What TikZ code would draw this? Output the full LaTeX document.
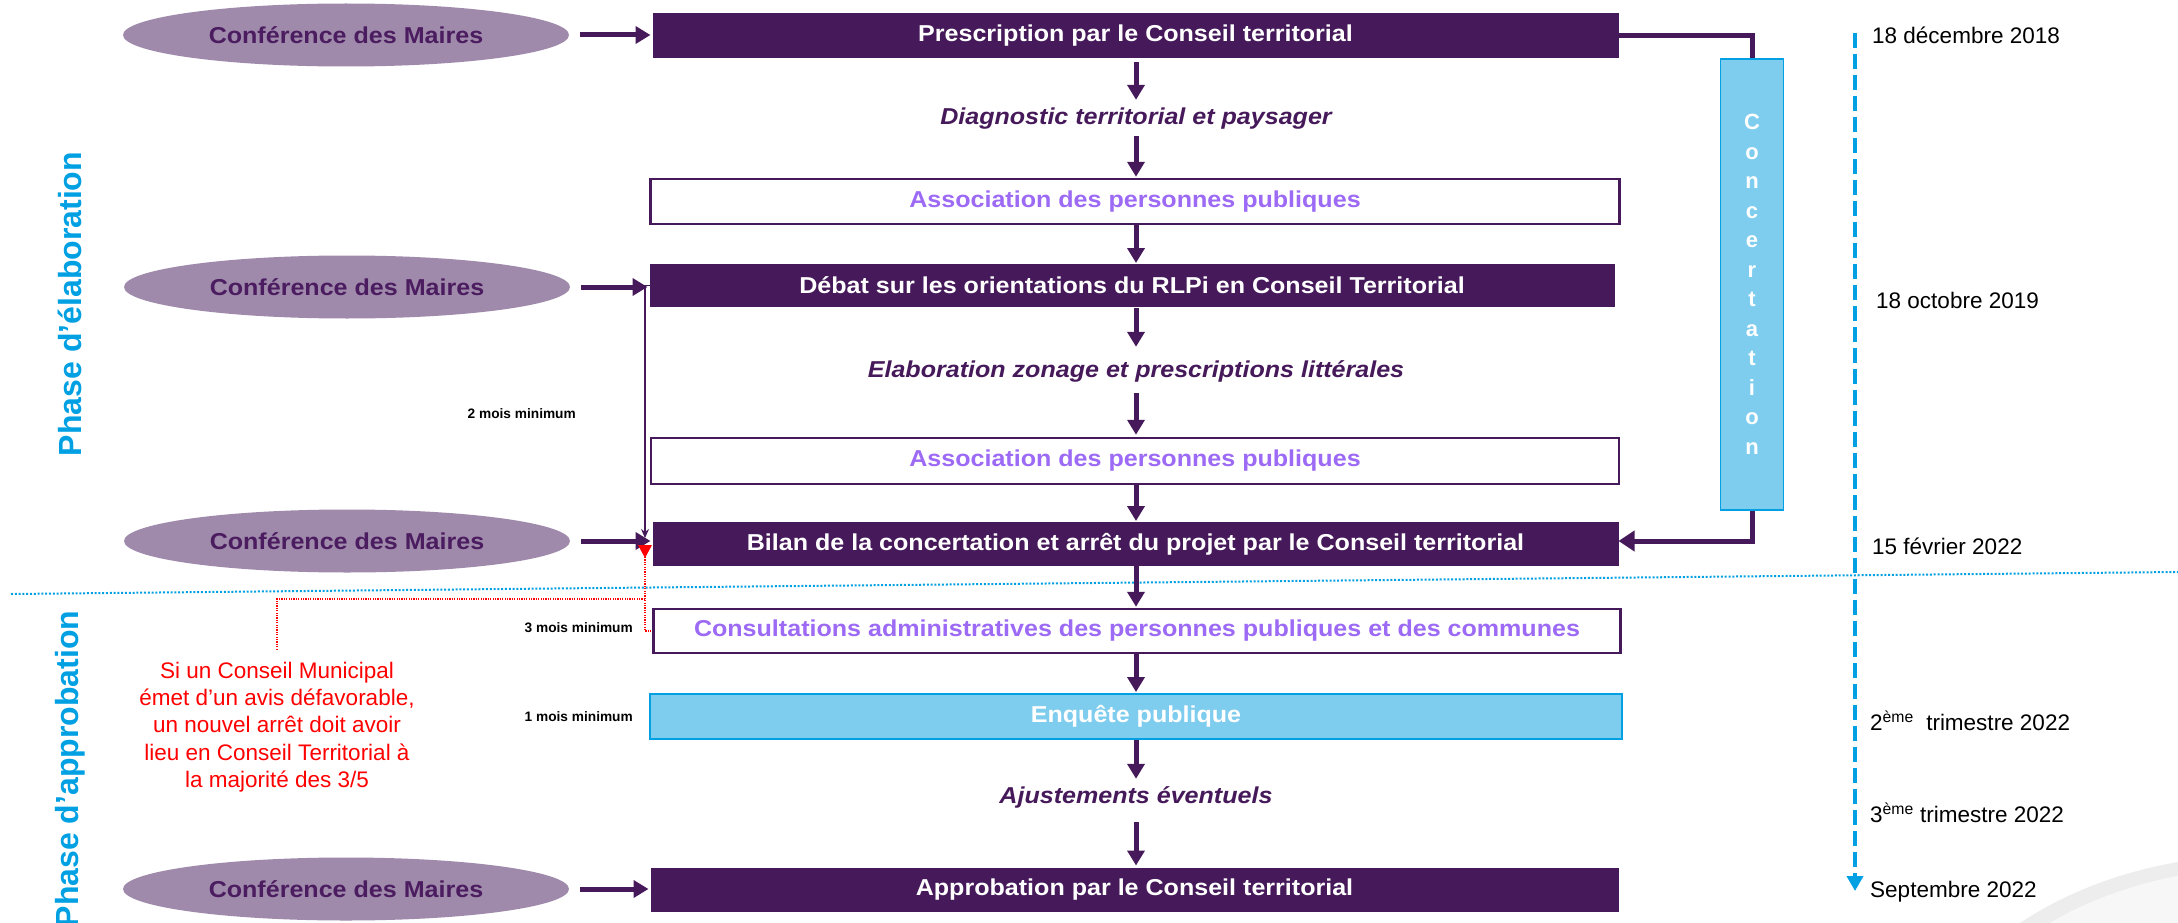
\documentclass[tikz,border=0pt]{standalone}
\usepackage{fontspec}
\setmainfont{Liberation Sans}
\newfontfamily\StretchSans[FakeStretch=1.09]{Liberation Sans}
\newfontfamily\NormSans{Liberation Sans}
\usetikzlibrary{arrows.meta,shapes.geometric,calc}
\definecolor{dpurple}{RGB}{70,26,90}
\definecolor{ellfill}{RGB}{159,138,171}
\definecolor{elltext}{RGB}{75,28,95}
\definecolor{violettext}{RGB}{156,106,245}
\definecolor{lblue}{RGB}{127,205,238}
\definecolor{mblue}{RGB}{0,160,227}
\definecolor{redc}{RGB}{255,0,0}
\tikzset{
  boxfont/.style={font=\StretchSans\bfseries\fontsize{23}{27}\selectfont},
  darkbox/.style={boxfont, draw=dpurple, fill=dpurple, line width=1pt, text=white, inner sep=0pt},
  whitebox/.style={boxfont, draw=dpurple, fill=white, line width=2.5pt, text=violettext, inner sep=0pt},
  bluebox/.style={boxfont, draw=mblue, fill=lblue, line width=2pt, text=white, inner sep=0pt},
  maires/.style={boxfont, ellipse, fill=ellfill, minimum width=446pt, minimum height=63pt, inner sep=0pt, text=elltext},
  caption/.style={font=\StretchSans\bfseries\itshape\fontsize{23}{27}\selectfont, text=dpurple, inner sep=0pt, minimum height=26pt},
  flow/.style={draw=dpurple, line width=5pt, -{Triangle[width=17pt,length=15pt]}},
  feed/.style={draw=dpurple, line width=5pt, -{Triangle[width=20pt,length=16pt]}},
  thin/.style={draw=dpurple, line width=1.2pt, -{Stealth[width=8pt,length=9pt]}},
  reddot/.style={draw=redc, line width=1.2pt, dash pattern=on 1.2pt off 1.2pt},
  mois/.style={font=\NormSans\bfseries\fontsize{13.7}{16}\selectfont, text=black, anchor=east, inner sep=0pt},
  datetext/.style={font=\NormSans\fontsize{22.5}{27}\selectfont, text=black, anchor=west, inner sep=0pt},
  phase/.style={font=\NormSans\bfseries\fontsize{32}{38}\selectfont, text=mblue, rotate=90, inner sep=0pt},
}
\begin{document}
\begin{tikzpicture}[x=1pt,y=-1pt]
\useasboundingbox (0,0) rectangle (2178,923);
\fill[white] (0,0) rectangle (2178,923);

% decorative swoosh bottom right
\fill[black!7] (2020,923) .. controls (2065,893) and (2120,872) .. (2178,862) -- (2178,876) .. controls (2125,886) and (2080,905) .. (2050,923) -- cycle;
\fill[black!3] (2050,923) .. controls (2080,905) and (2125,886) .. (2178,876) -- (2178,923) -- cycle;

% phase separator
\coordinate (sepL) at (11,594);
\coordinate (sepR) at (2178,572);
\draw[mblue, line width=2pt, dash pattern=on 2pt off 1.8pt] (sepL) -- (sepR);

% phase labels
\node[phase] (ph1) at (70,304) {Phase d’élaboration};
\node[phase] (ph2) at (70,769) {Phase d’approbation};

% main flow boxes
\node[darkbox, minimum width=965pt, minimum height=44pt] (b1) at (1135.5,36) {Prescription par le Conseil territorial};
\node[caption] (c1) at (1136,119) {Diagnostic territorial et paysager};
\node[whitebox, minimum width=969pt, minimum height=45pt] (b2) at (1135,201.5) {Association des personnes publiques};
\node[darkbox, minimum width=964pt, minimum height=42pt] (b3) at (1132,285.5) {Débat sur les orientations du RLPi en Conseil Territorial};
\node[caption] (c2) at (1136,371) {Elaboration zonage et prescriptions littérales};
\node[whitebox, minimum width=968pt, minimum height=46pt] (b4) at (1135,461) {Association des personnes publiques};
\node[darkbox, minimum width=965pt, minimum height=43pt] (b5) at (1135.5,544) {Bilan de la concertation et arrêt du projet par le Conseil territorial};
\node[whitebox, minimum width=967pt, minimum height=44pt] (b6) at (1137,631) {Consultations administratives des personnes publiques et des communes};
\node[bluebox, minimum width=972pt, minimum height=45pt] (b7) at (1136,716.5) {Enquête publique};
\node[caption] (c3) at (1136,797) {Ajustements éventuels};
\node[darkbox, minimum width=967pt, minimum height=43pt] (b8) at (1134.5,889.5) {Approbation par le Conseil territorial};

% vertical arrows
\draw[flow, shorten <=4pt, shorten >=6pt] (b1.south -| c1) -- (c1.north);
\draw[flow, shorten <=4pt, shorten >=1pt] (c1.south) -- (b2.north -| c1);
\draw[flow, shorten >=1pt] (b2.south -| c1) -- (b3.north -| c1);
\draw[flow, shorten <=1pt, shorten >=11pt] (b3.south -| c2) -- (c2.north);
\draw[flow, shorten <=9pt, shorten >=2pt] (c2.south) -- (b4.north -| c2);
\draw[flow, shorten >=1pt] (b4.south -| c2) -- (b5.north -| c2);
\draw[flow, shorten >=1pt] (b5.south -| c2) -- (b6.north -| c2);
\draw[flow, shorten >=1pt] (b6.south -| c2) -- (b7.north -| c2);
\draw[flow, shorten >=5pt] (b7.south -| c3) -- (c3.north);
\draw[flow, shorten <=12pt, shorten >=2pt] (c3.south) -- (b8.north -| c3);

% Conférence des Maires
\node[maires] (e1) at (346,35) {Conférence des Maires};
\node[maires] (e2) at (347,287) {Conférence des Maires};
\node[maires] (e3) at (347,541) {Conférence des Maires};
\node[maires] (e4) at (346,889) {Conférence des Maires};
\draw[flow, shorten <=11pt, shorten >=2pt] (e1.east) -- (e1.east -| b1.west);
\draw[flow, shorten <=11pt, shorten >=2pt] (e2.east) -- (e2.east -| b3.west);
\draw[flow, shorten <=11pt, shorten >=2pt] (e3.east) -- (e3.east -| b5.west);
\draw[flow, shorten <=11pt, shorten >=2pt] (e4.east) -- (e4.east -| b8.west);

% Concertation
\node[draw=mblue, fill=lblue, line width=1.5pt, minimum width=63pt, minimum height=451pt, inner sep=0pt,
      text=white, font=\NormSans\bfseries\fontsize{22}{29.5}\selectfont, align=center] (conc) at (1752,284.5)
      {C\\o\\n\\c\\e\\r\\t\\a\\t\\i\\o\\n};
\draw[dpurple, line width=5pt] (b1.east) -| (conc.north);
\draw[feed] (conc.south) |- ($(b5.east)+(0,-3)$);

% durations
\coordinate (t2) at (645,538);
\draw[thin] (b3.west) -| (t2);
\node[mois] (m2) at (576,414) {2 mois minimum};
\node[mois] (m3) at (633,628) {3 mois minimum};
\node[mois] (m1) at (633,717) {1 mois minimum};

% red note
\node[font=\NormSans\fontsize{22.5}{27.3}\selectfont, text=redc, align=center, inner sep=0pt] (note) at (277,727)
  {Si un Conseil Municipal\\émet d’un avis défavorable,\\un nouvel arrêt doit avoir\\lieu en Conseil Territorial à\\la majorité des 3/5};
\coordinate (rtop) at (645,557);
\coordinate (rjoin) at (645,599);
\fill[redc] (638,545) -- (652,545) -- (645,558) -- cycle;
\draw[reddot] (rtop) |- (b6.west);
\draw[reddot, shorten <=12pt] (note.north) |- (rjoin);

% timeline
\coordinate (tl1) at (1855,33);
\coordinate (tl2) at (1855,891);
\draw[mblue, line width=4pt, dash pattern=on 15pt off 6pt, -{Triangle[width=16pt,length=15pt]}] (tl1) -- (tl2);
\node[datetext] (d1) at (1872,35) {18 décembre 2018};
\node[datetext] (d2) at (1876,300) {18 octobre 2019};
\node[datetext] (d3) at (1872,546) {15 février 2022};
\node[datetext] (d4) at (1870,721) {2\textsuperscript{ème}\hspace{0.55em}trimestre 2022};
\node[datetext] (d5) at (1870,813) {3\textsuperscript{ème} trimestre 2022};
\node[datetext] (d6) at (1870,892) {Septembre 2022};
\end{tikzpicture}
\end{document}
